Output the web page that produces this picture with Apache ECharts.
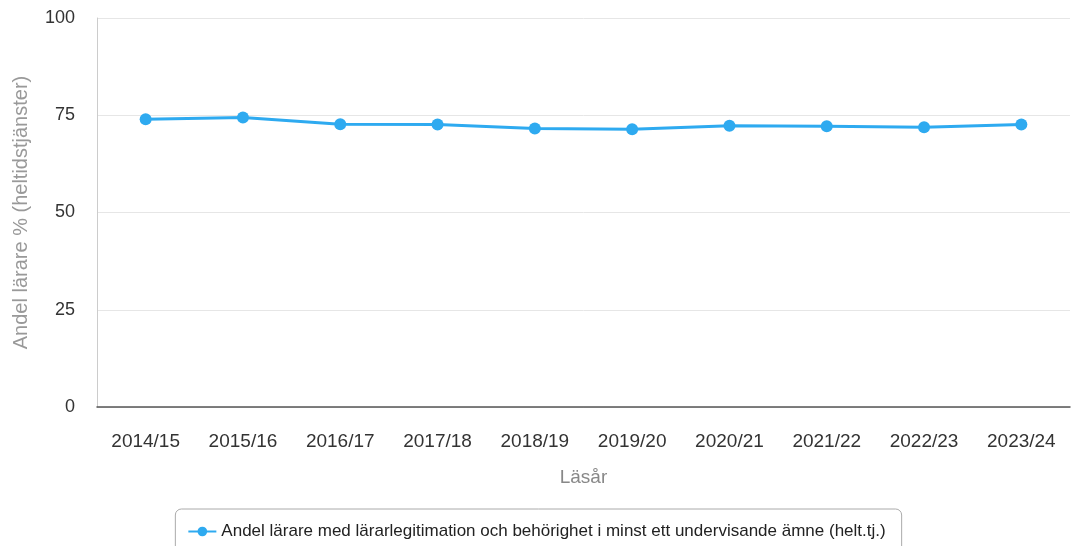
<!DOCTYPE html>
<html><head><meta charset="utf-8">
<script src="https://cdn.jsdelivr.net/npm/echarts@6/dist/echarts.min.js"></script>
<style>html,body{margin:0;padding:0;background:#fff}#c{width:1073px;height:546px}</style>
</head><body><div id="c"></div>
<script>
const categories = ['2014/15','2015/16','2016/17','2017/18','2018/19','2019/20','2020/21','2021/22','2022/23','2023/24'];
const values = [74.0, 74.4, 72.7, 72.6, 71.6, 71.4, 72.3, 72.2, 71.9, 72.6];
const seriesName = 'Andel lärare med lärarlegitimation och behörighet i minst ett undervisande ämne (helt.tj.)';
const yTicks = [0, 25, 50, 75, 100];

const chart = echarts.init(document.getElementById('c'));
chart.setOption({
  animation: false,
  textStyle: { fontFamily: 'Liberation Sans, Arial, sans-serif' },
  grid: { left: 97, right: 3, top: 18, bottom: 139, containLabel: false, outerBoundsMode: 'none' },
  legend: {
    bottom: -10, left: 'center',
    padding: [14, 16, 16, 12],
    borderColor: '#aaa', borderWidth: 1, borderRadius: 6,
    itemWidth: 28, itemHeight: 12, itemGap: 10,
    textStyle: { fontSize: 17, color: '#222' },
    data: [seriesName]
  },
  xAxis: {
    type: 'category', data: categories,
    name: 'Läsår', nameLocation: 'middle', nameGap: 61,
    nameTextStyle: { fontSize: 19, color: '#888' },
    axisLine: { lineStyle: { color: '#555', width: 1.5 } },
    axisTick: { show: false },
    axisLabel: { fontSize: 19, color: '#333', margin: 25 }
  },
  yAxis: {
    type: 'value', min: yTicks[0], max: yTicks[yTicks.length-1], interval: 25,
    name: 'Andel lärare % (heltidstjänster)', nameLocation: 'middle', nameGap: 66,
    nameTextStyle: { fontSize: 20, color: '#999' },
    axisLine: { show: true, lineStyle: { color: '#ccc' } },
    axisTick: { show: false },
    axisLabel: { fontSize: 18, color: '#333', margin: 22 },
    splitLine: { lineStyle: { color: '#e6e6e6' } }
  },
  series: [{
    name: seriesName, type: 'line', data: values,
    symbol: 'circle', symbolSize: 12,
    itemStyle: { color: '#2eaaf0' },
    lineStyle: { color: '#2eaaf0', width: 3 }
  }]
});
</script></body></html>
